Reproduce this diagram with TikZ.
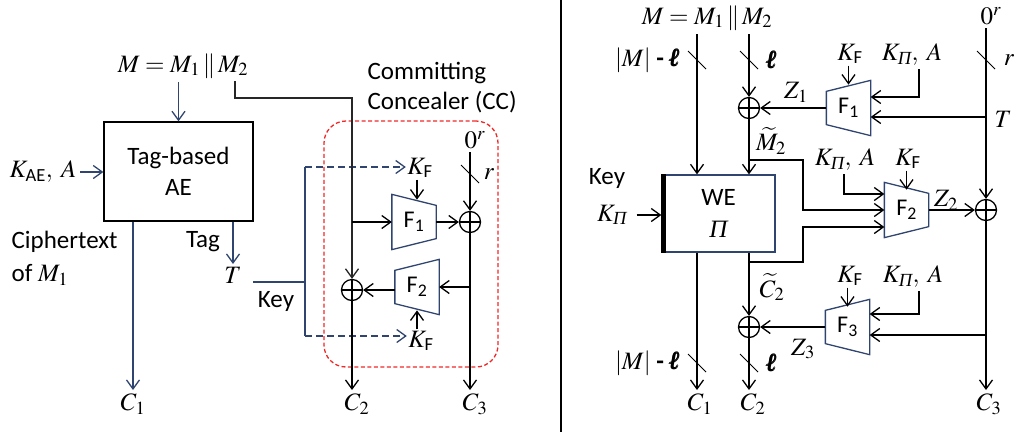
\documentclass[tikz,border=0pt]{standalone}
\usepackage{amsmath}
\usepackage{mathptmx}
\usepackage[no-math]{fontspec}
\setmainfont{Carlito}
\newfontfamily\tms{Liberation Serif}
\usetikzlibrary{arrows.meta,calc}
\definecolor{navy}{RGB}{47,69,112}
\definecolor{ccred}{RGB}{240,40,40}
\newcommand\ipi{\text{\tms\itshape Π}}
\newcommand\bell{\pmb{\text{\tms\bfseries\itshape ℓ}}}
\newcommand\trapL[1]{\draw[trap] (#1.north west) -- ([yshift=-11pt]#1.north east) -- ([yshift=11pt]#1.south east) -- (#1.south west) -- cycle;}
\newcommand\trapR[1]{\draw[trap] (#1.north east) -- ([yshift=-11pt]#1.north west) -- ([yshift=11pt]#1.south west) -- (#1.south east) -- cycle;}
\newcommand\bitmark[1]{\draw[line width=1pt] ($(#1)+(-9,-9)$) -- ($(#1)+(9,9)$);}
\begin{document}
\begin{tikzpicture}[x=1pt,y=-1pt,font=\fontsize{25}{30}\selectfont,line width=1.3pt,
  >={Straight Barb[length=9pt,width=13pt]},
  every node/.style={inner sep=3pt},
  arr/.style={->},
  navline/.style={navy},
  navarr/.style={->,navy},
  navdash/.style={->,navy,dash pattern=on 7pt off 4pt},
  kf/.style={inner sep=1pt},
  trap/.style={draw=navy,line width=1.3pt},
  fbox/.style={minimum width=43pt,minimum height=54pt,inner sep=0pt,font=\fontsize{24}{28}\selectfont},
  xorc/.style={circle,draw,minimum size=21pt,inner sep=0pt,
    path picture={\draw[line width=1.3pt] (path picture bounding box.north) -- (path picture bounding box.south)
      (path picture bounding box.west) -- (path picture bounding box.east);}}]
  \useasboundingbox (0,0) rectangle (1019,432);
  % left: tag-based AE with committing concealer
  \node (Ml) at (183,66) {$M = M_1 \,\|\, M_2$};
  \node[draw,minimum width=149pt,minimum height=99pt,align=center,font=\fontsize{25}{31}\selectfont] (AE) at (178.5,171.5) {Tag-based\\AE};
  \draw[navarr] (AE.north |- Ml.south) -- (AE.north);
  \node[anchor=east] (Kae) at (80,172) {$K_{\text{AE}},\; A$};
  \draw[navarr] (Kae.east) -- (Kae.east -| AE.west);
  \node[align=left,anchor=west,font=\fontsize{25}{33}\selectfont] (Ctx) at (8,258) {Ciphertext\\of $M_1$};
  \node[anchor=north] (C1) at (133,390) {$C_1$};
  \draw[navarr] (AE.south -| C1.north) -- (C1.north);
  \node (Tag) at (203,242) {Tag};
  \node[anchor=north] (T) at (233,264) {$T$};
  \draw[navarr] (T.north |- AE.south) -- (T.north);
  \coordinate (kt) at (305,167);
  \coordinate (km) at (305,282);
  \coordinate (kb) at (305,336);
  \draw[navline,shorten <=8pt] (T.east |- km) -- (km);
  \draw[navline] (kt) -- (kb);
  \node (Key) at (276,301) {Key};
  \node[kf] (KF1) at (420,168) {$K_{\text{F}}$};
  \node[kf] (KF2) at (421,341) {$K_{\text{F}}$};
  \draw[navdash] (kt) -- (kt -| KF1.west);
  \draw[navdash] (kb) -- (kb -| KF2.west);
  \node[draw=ccred,dash pattern=on 4pt off 2.5pt,rounded corners=22pt,minimum width=174pt,minimum height=246pt] (CC) at (411,244) {};
  \node[align=left,anchor=west] (CCt) at (364,88) {Committing\\Concealer (CC)};
  \node[xorc] (X1) at (470,222) {};
  \node[xorc] (X2) at (352,290) {};
  \node[fbox] (F1) at (414,222) {F\textsubscript{1}};
  \node[fbox] (F2) at (417,287) {F\textsubscript{2}};
  \trapL{F1}
  \trapR{F2}
  \coordinate (m2) at (235,81);
  \coordinate (m2c) at (352,98);
  \draw[arr,black!85] (m2) |- (m2c) -- (X2);
  \draw[arr] (X2 |- F1) -- (F1);
  \draw[arr] (F1) -- (X1);
  \node (Zr) at (475,140) {$0^r$};
  \draw[arr] (Zr.south -| X1) -- (X1);
  \coordinate (s0) at (470,174);
  \bitmark{s0}
  \node (r1) at (489,174) {$r$};
  \draw[arr] (KF1.south -| F1) ++(3,0) -- ++(0,20);
  \draw[arr] (KF2.north -| F2) -- ++(0,-19);
  \draw[arr] (X1 |- F2) -- (F2);
  \draw[arr] (F2.west |- X2) -- (X2);
  \node[anchor=north] (C2) at (357,390) {$C_2$};
  \node[anchor=north] (C3) at (475,390) {$C_3$};
  \draw[arr] (X2) -- (X2 |- C2.north);
  \draw[arr] (X1) -- (X1 |- C3.north);
  % separator
  \draw[line width=2pt] (561,0) -- (561,432);
  % right: WE based scheme
  \node (Mr) at (707,18) {$M = M_1 \,\|\, M_2$};
  \node[draw=navy,minimum width=113pt,minimum height=77pt,align=center,font=\fontsize{25}{32}\selectfont] (WE) at (718.5,213.5) {WE\\$\ipi$};
  \draw[line width=5pt] ([xshift=2.5pt]WE.north west) -- ([xshift=2.5pt]WE.south west);
  \coordinate (a1) at (697,34);
  \coordinate (a2) at (749,34);
  \draw[arr] (a1) -- (a1 |- WE.north);
  \node[xorc] (XA) at (749,108) {};
  \draw[arr] (a2) -- (XA);
  \draw[arr] (XA) -- (XA |- WE.north);
  \coordinate (s1) at (697,60);
  \coordinate (s2) at (749,60);
  \coordinate (s3) at (697,363);
  \coordinate (s4) at (749,363);
  \bitmark{s1}
  \bitmark{s2}
  \bitmark{s3}
  \bitmark{s4}
  \node[anchor=east] (L1) at (684,60) {$|M|$ \textbf{-} $\bell$};
  \node (L2) at (772,60) {$\bell$};
  \node[anchor=east] (L3) at (684,363) {$|M|$ \textbf{-} $\bell$};
  \node (L4) at (772,363) {$\bell$};
  \node (Key2) at (607,178) {Key};
  \node (KP) at (612,215) {$K_{\ipi}$};
  \draw[arr,shorten <=6pt] (KP.east) -- (KP.east -| WE.west);
  \node[fbox] (FA) at (848.5,108) {F\textsubscript{1}};
  \trapR{FA}
  \draw[arr] (FA) -- (XA);
  \node (Z1) at (796,92) {$Z_1$};
  \node[kf] (KF3) at (850,54) {$K_{\text{F}}$};
  \draw[arr] (KF3.south -| FA) -- ++(0,19);
  \node (KPA1) at (912,55) {$K_{\ipi},\; A$};
  \coordinate (t1) at (919,97);
  \draw[arr] (KPA1.south -| t1) -- (t1) -- (t1 -| FA.east);
  \node[xorc] (XB) at (986,210) {};
  \node (Zr2) at (991,16) {$0^r$};
  \draw[arr] (Zr2.south -| XB) -- (XB);
  \coordinate (s5) at (986,60);
  \bitmark{s5}
  \node (r2) at (1009,60) {$r$};
  \coordinate (tt) at (986,117);
  \node[anchor=west] (T2) at (991,119) {$T$};
  \draw[arr] (tt) -- (tt -| FA.east);
  \node[fbox] (FB) at (906.5,210) {F\textsubscript{2}};
  \trapL{FB}
  \draw[arr] (FB) -- (XB);
  \node (Z2) at (946,200) {$Z_2$};
  \node[kf] (KF4) at (908,159) {$K_{\text{F}}$};
  \draw[arr] (KF4.south -| FB) -- ++(0,19);
  \node (KPA2) at (845,160) {$K_{\ipi},\; A$};
  \coordinate (t2) at (844,194);
  \draw[arr] (KPA2.south -| t2) -- (t2) -- (t2 -| FB.west);
  \node (M2t) at (771,141) {$\widetilde{M}_2$};
  \coordinate (bm) at (803,160);
  \coordinate (bc) at (803,262);
  \draw[arr] (XA |- bm) -- (bm) |- (FB.west);
  \draw[arr] (XA |- bc) -- (bc) |- ([yshift=-17pt]FB.west);
  \node (C2t) at (772,287) {$\widetilde{C}_2$};
  \node[xorc] (XC) at (749,327) {};
  \draw[arr] (XA |- WE.south) -- (XC);
  \node[fbox] (FC) at (847.5,327) {F\textsubscript{3}};
  \trapR{FC}
  \draw[arr] (FC) -- (XC);
  \node (Z3) at (803,349) {$Z_3$};
  \node[kf] (KF5) at (850,276) {$K_{\text{F}}$};
  \draw[arr] (KF5.south -| FC) -- ++(0,19);
  \node (KPA3) at (913,277) {$K_{\ipi},\; A$};
  \coordinate (t3) at (919,314);
  \draw[arr] (KPA3.south -| t3) -- (t3) -- (t3 -| FC.east);
  \coordinate (t4) at (986,335);
  \draw[arr] (t4) -- (t4 -| FC.east);
  \node[anchor=north] (C1r) at (700,390) {$C_1$};
  \node[anchor=north] (C2r) at (753,390) {$C_2$};
  \node[anchor=north] (C3r) at (989,390) {$C_3$};
  \draw[arr] (a1 |- WE.south) -- (a1 |- C1r.north);
  \draw[arr] (XC) -- (XC |- C2r.north);
  \draw[arr] (XB) -- (XB |- C3r.north);
\end{tikzpicture}
\end{document}
